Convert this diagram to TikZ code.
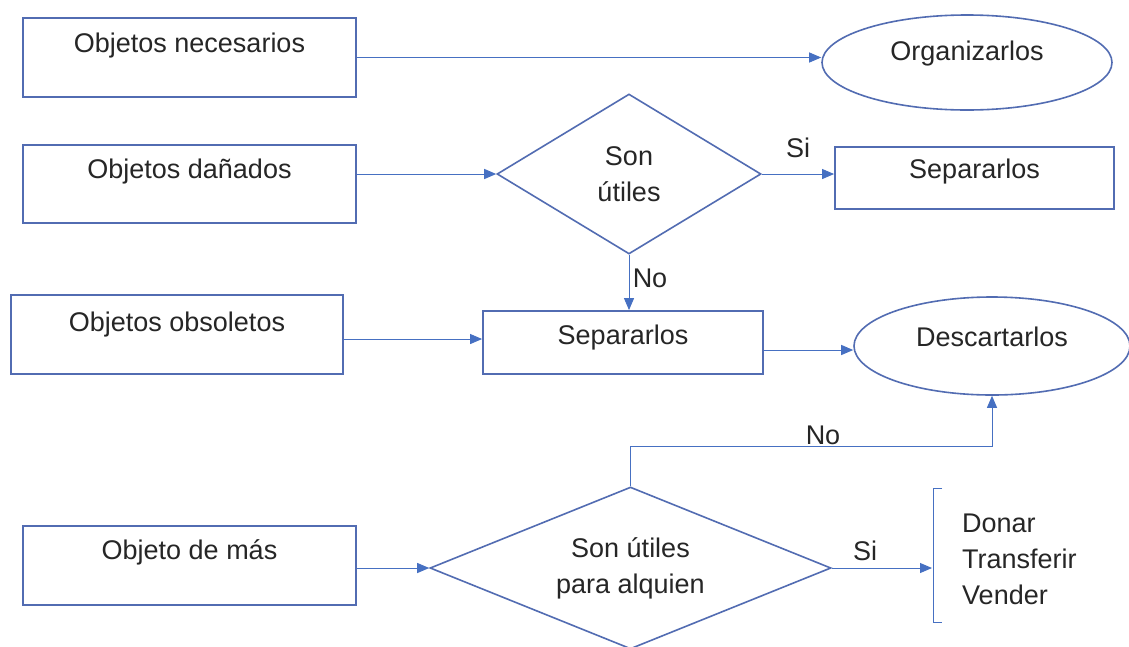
\documentclass[tikz,border=0pt]{standalone}
\usepackage{fontspec}
\setmainfont{Liberation Sans}
\usetikzlibrary{arrows.meta}
\usetikzlibrary{shapes.geometric}

\definecolor{bordeazul}{RGB}{82,108,178}
\definecolor{flechaazul}{RGB}{70,112,194}
\definecolor{textogris}{RGB}{38,38,38}

\newcommand{\subir}[2]{\raisebox{#1}[\height][\depth]{#2}}

\begin{document}
\begin{tikzpicture}[x=1pt,y=-1pt,
    every node/.style={font=\fontsize{27}{36}\selectfont,text=textogris},
    caja/.style={draw=bordeazul,line width=1.8pt,rectangle,inner sep=0pt},
    elipse/.style={draw=bordeazul,line width=1.6pt,ellipse,inner sep=0pt},
    rombo/.style={draw=bordeazul,line width=1.6pt,diamond,inner sep=0pt,align=center},
    flecha/.style={draw=flechaazul,line width=1pt,-{Triangle[length=12pt,width=10pt]}}]

  \useasboundingbox (0,0) rectangle (1129,646);
  \fill [white] (0,0) rectangle (1129,646);

  \node [caja,minimum width=333pt,minimum height=79pt] (nec) at (189.5,57.5) {\subir{12pt}{Objetos necesarios}};
  \node [caja,minimum width=333pt,minimum height=78pt] (dan) at (189.5,184) {\subir{12pt}{Objetos dañados}};
  \node [caja,minimum width=332pt,minimum height=79pt] (obs) at (177,334.5) {\subir{10pt}{Objetos obsoletos}};
  \node [caja,minimum width=333pt,minimum height=79pt] (mas) at (189.5,565.5) {\subir{13pt}{Objeto de más}};

  \node [elipse,minimum width=290pt,minimum height=95pt] (org) at (967,62.5) {\subir{9pt}{Organizarlos}};
  \node [elipse,minimum width=276pt,minimum height=98pt] (desc) at (992,346) {\subir{9pt}{Descartarlos}};

  \node [rombo,minimum width=264pt,minimum height=160pt,shape aspect=1.65] (util) at (629,174) {Son\\útiles};
  \node [rombo,minimum width=401pt,minimum height=162pt,shape aspect=2.5] (alg) at (630.5,568) {Son útiles\\para alquien};

  \node [caja,minimum width=279pt,minimum height=62pt] (sep1) at (974.5,178) {\subir{6pt}{Separarlos}};
  \node [caja,minimum width=280pt,minimum height=63pt] (sep2) at (623,342.5) {\subir{5pt}{Separarlos}};

  \node [anchor=west,inner sep=0pt,align=left] (opciones) at (962,559) {Donar\\Transferir\\Vender};

  \node (si1) at (798,148) {Si};
  \node (no1) at (650,278) {No};
  \node (no2) at (823,435) {No};
  \node (si2) at (865,551) {Si};

  \coordinate (brk) at (932,568);
  \coordinate (brtop) at (933,488);
  \coordinate (brbot) at (933,622);

  \path
    (nec.east)                 edge [flecha] (nec.east -| org.west)
    (util.west -| dan.east)    edge [flecha] (util.west)
    (util.east)                edge [flecha] (util.east -| sep1.west)
    (util.south)               edge [flecha] (util.south |- sep2.north)
    ([yshift=-4.5pt]obs.east)  edge [flecha] ([yshift=-4.5pt]obs.east -| sep2.west)
    ([yshift=-7.5pt]sep2.east) edge [flecha] ([yshift=-7.5pt]sep2.east -| desc.west)
    (alg.west -| mas.east)     edge [flecha] (alg.west)
    (alg.east)                 edge [flecha] (alg.east -| brk);

  \draw [flecha] (alg.north) -- ++(0,-40) -| (desc.south);

  \draw [draw=flechaazul,line width=1pt] (brtop) ++(9,0) -- (brtop) -- (brbot) -- ++(9,0);

\end{tikzpicture}
\end{document}
